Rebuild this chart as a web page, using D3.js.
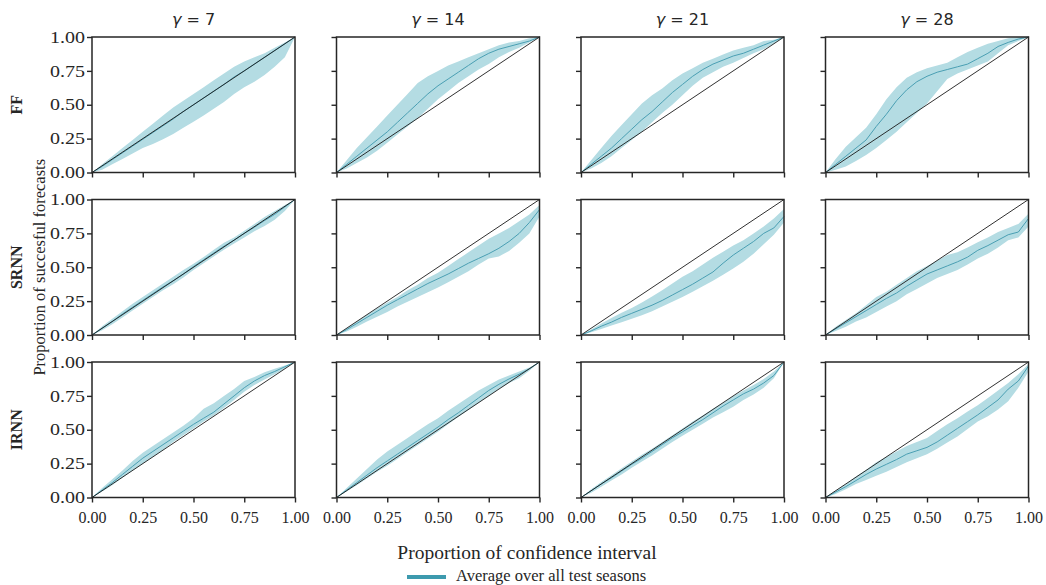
<!DOCTYPE html>
<html>
<head>
<meta charset="utf-8">
<script src="https://cdn.jsdelivr.net/npm/d3@7"></script>
<style>
  body { margin: 0; background: #fff; }
  svg { display: block; }
</style>
</head>
<body>
<script>
// ---------- DATA ----------
const xGrid = [0, .05, .1, .15, .2, .25, .3, .35, .4, .45, .5, .55, .6, .65, .7, .75, .8, .85, .9, .95, 1];
const gammas = ["7", "14", "21", "28"];
const models = ["FF", "SRNN", "IRNN"];
const tickValues = [0, 0.25, 0.5, 0.75, 1];
const tickLabels = ["0.00", "0.25", "0.50", "0.75", "1.00"];
const xTitle = "Proportion of confidence interval";
const yTitle = "Proportion of succesful forecasts";
const legendLabel = "Average over all test seasons";

// FF
const ff7Mean  = [0, .045, .095, .145, .195, .245, .295, .345, .395, .45, .5, .55, .6, .65, .705, .75, .8, .85, .9, .95, 1];
const ff7Upper = [0, .06, .12, .18, .24, .30, .36, .42, .48, .53, .58, .63, .68, .73, .78, .82, .85, .88, .92, .96, 1];
const ff7Lower = [0, .02, .06, .10, .14, .18, .21, .245, .285, .33, .375, .42, .47, .52, .58, .63, .67, .72, .78, .85, 1];

const ff14Mean  = [0, .06, .12, .18, .24, .30, .37, .44, .51, .58, .64, .69, .74, .79, .84, .88, .91, .93, .95, .97, 1];
const ff14Upper = [0, .09, .18, .26, .34, .42, .50, .58, .66, .71, .75, .79, .82, .85, .88, .91, .94, .96, .97, .99, 1];
const ff14Lower = [0, .03, .07, .11, .16, .22, .28, .34, .40, .47, .54, .60, .66, .71, .76, .80, .85, .89, .92, .96, 1];

const ff21Mean  = [0, .06, .12, .18, .25, .32, .39, .45, .52, .59, .65, .71, .76, .80, .83, .86, .88, .91, .94, .97, 1];
const ff21Upper = [0, .09, .18, .27, .35, .43, .51, .57, .62, .68, .73, .77, .81, .84, .87, .90, .92, .94, .97, .98, 1];
const ff21Lower = [0, .03, .07, .12, .18, .24, .30, .37, .44, .50, .57, .64, .70, .74, .78, .81, .845, .88, .91, .95, 1];

const ff28Mean  = [0, .06, .12, .18, .24, .34, .43, .53, .61, .67, .71, .74, .76, .78, .80, .84, .88, .93, .96, .985, 1];
const ff28Upper = [0, .10, .19, .26, .33, .43, .54, .63, .70, .74, .77, .79, .81, .85, .89, .92, .95, .97, .99, 1, 1];
const ff28Lower = [0, .02, .045, .085, .13, .18, .24, .30, .37, .44, .51, .60, .69, .73, .76, .79, .82, .88, .94, .97, 1];

// SRNN
const srnn7Mean  = [0, .05, .1, .155, .205, .255, .305, .355, .40, .45, .505, .555, .605, .655, .70, .75, .795, .845, .89, .945, 1];
const srnn7Upper = [0, .065, .12, .175, .23, .28, .33, .38, .43, .48, .525, .575, .63, .68, .72, .77, .82, .87, .915, .96, 1];
const srnn7Lower = [0, .035, .08, .13, .18, .23, .28, .33, .375, .425, .48, .53, .58, .63, .675, .72, .765, .805, .85, .915, 1];

const srnn14Mean  = [0, .04, .085, .13, .175, .22, .26, .30, .34, .38, .415, .45, .49, .53, .565, .60, .64, .69, .75, .83, .925];
const srnn14Upper = [0, .05, .10, .15, .195, .24, .28, .33, .37, .42, .46, .51, .56, .61, .66, .71, .75, .79, .84, .89, .96];
const srnn14Lower = [0, .025, .06, .10, .135, .17, .21, .245, .28, .315, .35, .39, .43, .47, .52, .565, .58, .62, .68, .75, .875];

const srnn21Mean  = [0, .03, .065, .095, .13, .16, .19, .22, .255, .295, .335, .375, .42, .465, .53, .59, .64, .69, .75, .79, .875];
const srnn21Upper = [0, .04, .085, .125, .165, .20, .24, .285, .33, .38, .43, .47, .52, .57, .615, .66, .70, .75, .80, .86, .93];
const srnn21Lower = [0, .02, .045, .07, .095, .12, .145, .175, .21, .245, .28, .32, .36, .40, .445, .49, .54, .60, .67, .74, .83];

const srnn28Mean  = [0, .045, .09, .135, .18, .225, .27, .31, .36, .405, .45, .48, .51, .54, .575, .625, .66, .70, .74, .76, .86];
const srnn28Upper = [0, .06, .11, .16, .22, .28, .32, .37, .42, .47, .51, .55, .59, .61, .645, .685, .72, .76, .79, .82, .895];
const srnn28Lower = [0, .03, .06, .10, .13, .17, .21, .25, .30, .34, .38, .42, .45, .48, .52, .565, .60, .645, .70, .72, .80];

// IRNN
const irnn7Mean  = [0, .055, .11, .17, .23, .29, .34, .39, .44, .49, .54, .585, .63, .69, .75, .81, .86, .90, .93, .965, 1];
const irnn7Upper = [0, .07, .135, .20, .27, .33, .38, .43, .48, .53, .585, .655, .695, .75, .80, .86, .89, .925, .95, .975, 1];
const irnn7Lower = [0, .045, .09, .145, .20, .25, .30, .35, .41, .46, .51, .56, .605, .66, .72, .78, .83, .87, .91, .95, 1];

const irnn14Mean  = [0, .055, .11, .165, .22, .27, .32, .37, .42, .47, .52, .575, .625, .68, .735, .79, .835, .875, .91, .95, 1];
const irnn14Upper = [0, .07, .14, .21, .28, .34, .39, .44, .49, .54, .585, .64, .69, .74, .79, .83, .87, .90, .93, .96, 1];
const irnn14Lower = [0, .045, .09, .14, .19, .235, .285, .335, .385, .435, .485, .54, .595, .645, .70, .75, .80, .845, .88, .935, 1];

const irnn21Mean  = [0, .05, .1, .145, .195, .245, .29, .34, .39, .44, .485, .53, .575, .625, .675, .72, .765, .80, .845, .90, 1];
const irnn21Upper = [0, .06, .115, .165, .215, .265, .315, .36, .41, .46, .51, .56, .605, .655, .70, .75, .79, .83, .875, .93, 1];
const irnn21Lower = [0, .035, .08, .125, .17, .22, .265, .31, .36, .41, .455, .50, .545, .59, .63, .67, .72, .76, .81, .88, 1];

const irnn28Mean  = [0, .04, .08, .125, .17, .21, .245, .28, .32, .345, .37, .41, .46, .51, .56, .61, .665, .72, .80, .86, .97];
const irnn28Upper = [0, .05, .10, .155, .205, .26, .30, .34, .38, .41, .44, .49, .54, .585, .635, .68, .735, .79, .845, .91, .985];
const irnn28Lower = [0, .025, .06, .10, .13, .16, .19, .225, .26, .29, .32, .36, .405, .45, .505, .56, .60, .65, .71, .81, .93];

const panels = [
  [[ff7Mean, ff7Upper, ff7Lower], [ff14Mean, ff14Upper, ff14Lower], [ff21Mean, ff21Upper, ff21Lower], [ff28Mean, ff28Upper, ff28Lower]],
  [[srnn7Mean, srnn7Upper, srnn7Lower], [srnn14Mean, srnn14Upper, srnn14Lower], [srnn21Mean, srnn21Upper, srnn21Lower], [srnn28Mean, srnn28Upper, srnn28Lower]],
  [[irnn7Mean, irnn7Upper, irnn7Lower], [irnn14Mean, irnn14Upper, irnn14Lower], [irnn21Mean, irnn21Upper, irnn21Lower], [irnn28Mean, irnn28Upper, irnn28Lower]]
];

// ---------- LAYOUT ----------
const W = 1046, H = 585;
const gridLeft = 92, gridTop = 37, pw = 203, ph = 135.5, gx = 41.5, gy = 27;
const bandColor = "#b4dce3";
const lineColor = "#4a9fb3";
const ink = "#262626";
const serif = "'Liberation Serif', 'Times New Roman', serif";
const sans = "'DejaVu Sans', sans-serif";

const svg = d3.select("body").append("svg").attr("width", W).attr("height", H);

const x = d3.scaleLinear().domain([0, 1]).range([0, pw]);
const y = d3.scaleLinear().domain([0, 1]).range([ph, 0]);

const area = d3.area().x(d => x(d.x)).y0(d => y(d.lo)).y1(d => y(d.hi));
const line = d3.line().x(d => x(d.x)).y(d => y(d.m));

models.forEach((model, r) => {
  gammas.forEach((g, c) => {
    const [mean, upper, lower] = panels[r][c];
    const data = xGrid.map((xv, i) => ({ x: xv, m: mean[i], hi: upper[i], lo: lower[i] }));
    const gp = svg.append("g").attr("transform", `translate(${gridLeft + c * (pw + gx)},${gridTop + r * (ph + gy)})`);

    gp.append("path").datum(data).attr("d", area).attr("fill", bandColor).attr("stroke", "none");
    gp.append("path").datum(data).attr("d", line).attr("fill", "none").attr("stroke", lineColor).attr("stroke-width", 1);
    gp.append("path").datum([{ x: 0, m: 0 }, { x: 1, m: 1 }]).attr("d", line)
      .attr("fill", "none").attr("stroke", "#1a1a1a").attr("stroke-width", 0.9);

    const yAxis = d3.axisLeft(y).tickValues(tickValues).tickSize(5).tickPadding(2)
      .tickFormat((d, i) => c === 0 ? tickLabels[i] : "");
    const xAxis = d3.axisBottom(x).tickValues(tickValues).tickSize(5).tickPadding(9)
      .tickFormat((d, i) => r === 2 ? tickLabels[i] : "");

    const ya = gp.append("g").call(yAxis);
    const xa = gp.append("g").attr("transform", `translate(0,${ph})`).call(xAxis);
    [ya, xa].forEach(a => {
      a.select(".domain").remove();
      a.selectAll(".tick line").attr("stroke", ink).attr("stroke-width", 1.4);
      a.selectAll(".tick text").attr("fill", ink).style("font-family", serif).style("font-size", "16px");
    });
    if (c === 0) {
      ya.selectAll(".tick text").attr("textLength", 35).attr("lengthAdjust", "spacingAndGlyphs");
    }

    gp.append("rect").attr("x", 0).attr("y", 0).attr("width", pw).attr("height", ph)
      .attr("fill", "none").attr("stroke", ink).attr("stroke-width", 1.5);

    if (r === 0) {
      const t = gp.append("text").attr("x", pw / 2).attr("y", -12).attr("text-anchor", "middle")
        .attr("fill", ink).style("font-family", sans).style("font-size", "16px");
      t.append("tspan").style("font-style", "italic").text("\u03b3");
      t.append("tspan").text(` = ${g}`);
    }
    if (c === 0) {
      svg.append("text")
        .attr("transform", `translate(22,${gridTop + r * (ph + gy) + ph / 2}) rotate(-90)`)
        .attr("text-anchor", "middle").attr("fill", ink)
        .style("font-family", serif).style("font-size", "16px").style("font-weight", "bold")
        .text(model);
    }
  });
});

// shared axis titles
svg.append("text")
  .attr("transform", `translate(45,${gridTop + (3 * ph + 2 * gy) / 2}) rotate(-90)`)
  .attr("text-anchor", "middle").attr("fill", ink)
  .style("font-family", serif).style("font-size", "16.5px")
  .text(yTitle);

svg.append("text").attr("x", W / 2 + 4).attr("y", 559).attr("text-anchor", "middle")
  .attr("fill", ink).style("font-family", serif).style("font-size", "19.5px")
  .text(xTitle);

// legend
svg.append("line").attr("x1", 407).attr("x2", 446).attr("y1", 577).attr("y2", 577)
  .attr("stroke", "#3d9aae").attr("stroke-width", 4);
svg.append("text").attr("x", 456).attr("y", 581).attr("fill", ink)
  .style("font-family", serif).style("font-size", "16.5px")
  .text(legendLabel);
</script>
</body>
</html>
